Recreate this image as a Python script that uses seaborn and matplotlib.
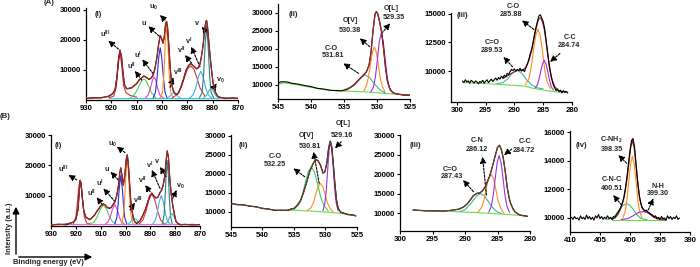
import numpy as np
import matplotlib
matplotlib.use('Agg')
import matplotlib.pyplot as plt
import seaborn as sns

# ---------------- DATA ----------------
# Panel A(i)  Ce 3d
a1_x = [930, 927, 924, 921, 919.5, 918.5, 917.8, 917.2, 916.6, 916.0, 915.4, 914.8, 914.0, 913, 912, 911, 910, 909, 908,
        907.2, 906.5, 905.8, 905, 904.2, 903.5, 902.8, 902.0, 901.3, 900.7, 900.2, 899.6, 899.1, 898.6, 898.2, 897.8,
        897.3, 896.8, 896.2, 895.6, 895, 894.2, 893.5, 892.5, 891.5, 890.5, 889.5, 888.7, 887.8, 887, 886.3, 885.6,
        885, 884.4, 883.8, 883.2, 882.7, 882.4, 882.0, 881.5, 881, 880.4, 879.8, 879, 878, 877, 875, 872, 870]
a1_fit = [600, 650, 800, 1200, 2000, 3600, 7500, 13000, 16600, 14500, 9000, 5000, 3800, 3800, 4100, 4700, 5500, 6600,
          7400, 7900, 7700, 7200, 6900, 7300, 8300, 10300, 14200, 18600, 21300, 20500, 18800, 21000, 25000, 26000,
          24000, 18000, 11000, 5500, 3200, 2200, 1800, 2400, 4300, 7000, 9800, 11500, 12000, 11500, 10800, 10400,
          10700, 12000, 14500, 18000, 23000, 26000, 26300, 24000, 19000, 14500, 9500, 5500, 2600, 1300, 800, 650, 600, 600]
a1_exp = [500, 750, 700, 1300, 2100, 3500, 7600, 13200, 16500, 14600, 9100, 5100, 3700, 3900, 4000, 4800, 5400, 6700,
          7300, 8000, 7600, 7300, 6800, 7400, 8200, 10400, 14100, 18700, 21400, 20400, 18900, 20900, 25100, 26100,
          23900, 18100, 11100, 5400, 3300, 2100, 1900, 2300, 4400, 6900, 9900, 11400, 12100, 11400, 10900, 10300,
          10800, 11900, 14600, 17900, 23100, 25900, 26400, 23900, 19100, 14400, 9600, 5400, 2700, 1200, 900, 500, 700, 500]
a1_base_x = [921, 877]
a1_base_y = [700, 700]
a1_u3_x = [921, 919, 918, 917.3, 916.6, 915.9, 915.2, 914.3, 912.5, 910]
a1_u3_y = [700, 1300, 4500, 11500, 15800, 11500, 5000, 2500, 1500, 900]
a1_u2_x = [912.5, 911, 910, 909, 908, 907.2, 906.3, 905.3, 904, 902.5]
a1_u2_y = [700, 1700, 3000, 4800, 6400, 7000, 6400, 4600, 2200, 800]
a1_u1_x = [906.5, 905.5, 904.6, 903.8, 903.1, 902.4, 901.7, 900.8, 899.5]
a1_u1_y = [700, 1600, 3800, 6500, 7600, 6500, 3800, 1600, 700]
a1_u_x = [903.5, 902.6, 902.0, 901.3, 900.7, 900.1, 899.4, 898.8, 898]
a1_u_y = [700, 2500, 7000, 14000, 17300, 14000, 7000, 2500, 700]
a1_u0_x = [900.8, 899.8, 899.2, 898.7, 898.2, 897.7, 897.2, 896.6, 895.6]
a1_u0_y = [700, 2500, 9000, 19500, 24800, 19500, 9000, 2500, 700]
a1_v3_x = [898, 896.8, 896, 895.3, 894.6, 893.8, 892.6]
a1_v3_y = [700, 1300, 2100, 2600, 2100, 1300, 700]
a1_v2_x = [896, 894, 892.5, 891.2, 890, 888.7, 887.4, 886.2, 885, 883]
a1_v2_y = [700, 1800, 4000, 7300, 10200, 11300, 10200, 7300, 4000, 1200]
a1_v1_x = [889, 887.6, 886.6, 885.6, 884.7, 883.8, 882.8, 881.8, 880.4]
a1_v1_y = [700, 1800, 4200, 7800, 9500, 7800, 4200, 1800, 700]
a1_v_x = [885.2, 884.2, 883.6, 883, 882.4, 881.8, 881.2, 880.6, 879.6]
a1_v_y = [700, 2500, 8000, 18000, 24500, 18000, 8000, 2500, 700]
a1_v0_x = [883.5, 882.3, 881.4, 880.6, 879.8, 879, 877.7]
a1_v0_y = [700, 1700, 3200, 3900, 3200, 1700, 700]

# Panel A(ii)  O 1s
a2_x = [545, 544.5, 544, 543.5, 543, 542, 541, 540, 539, 538, 537, 536, 535.5, 535, 534.5, 534, 533.5, 533, 532.5,
        532, 531.6, 531.2, 530.9, 530.6, 530.3, 530.1, 529.9, 529.6, 529.3, 529.0, 528.7, 528.4, 528.0, 527.5, 527,
        526, 525]
a2_fit = [10300, 10700, 10800, 10650, 10450, 10100, 9800, 9400, 9000, 8700, 8450, 8300, 8300, 8400, 8700, 9200, 9900,
          10800, 11800, 12700, 13600, 15400, 19000, 25000, 29500, 30200, 29800, 27500, 24500, 20000, 14500, 10800,
          8500, 7700, 7400, 7150, 7050]
a2_exp = [10400, 10800, 10750, 10700, 10400, 10150, 9750, 9450, 8950, 8750, 8400, 8350, 8250, 8450, 8650, 9250, 9850,
          10850, 11750, 12750, 13550, 15450, 19100, 25100, 29600, 30300, 29700, 27400, 24600, 19900, 14600, 10700,
          8600, 7650, 7450, 7100, 7050]
a2_base_x = [545, 544, 542, 540, 538, 536, 534, 532, 530, 528, 526, 525]
a2_base_y = [10100, 10500, 9900, 9250, 8600, 8250, 8150, 8000, 7750, 7450, 7150, 7050]
a2_co_x = [535, 534, 533.2, 532.5, 531.8, 531.1, 530.4, 529.6, 528.6]
a2_co_y = [8600, 9300, 10600, 12000, 12700, 11900, 10200, 8600, 7500]
a2_ov_x = [532.0, 531.6, 531.3, 531.0, 530.7, 530.4, 530.1, 529.8, 529.5, 529.2, 528.8]
a2_ov_y = [8300, 9700, 12000, 15600, 19000, 20500, 19000, 15500, 11800, 9500, 8000]
a2_ol_x = [530.95, 530.55, 530.25, 529.95, 529.65, 529.35, 529.05, 528.75, 528.45, 528.15, 527.75]
a2_ol_y = [7950, 9250, 12000, 16800, 22000, 24300, 22000, 16800, 12000, 9250, 7950]

# Panel A(iii)  C 1s (noisy)
a3_exp = [9150, 9000, 9250, 9050, 9150, 8950, 9200, 9100, 8950, 9150, 9050, 8900, 9100, 9000, 9200, 8950, 9100, 9250,
          9000, 9150, 9300, 9100, 9250, 9400, 9200, 9450, 9300, 9550, 9400, 9650, 9500, 9800, 9700, 9950, 10150, 10050,
          10200, 10000, 10150, 10050, 10250, 10000, 10150, 9950, 10300, 10600, 11000, 11500, 11900, 12500, 13200, 13800,
          14300, 14800, 14900, 14600, 14300, 13700, 12700, 11700, 10700, 9900, 9300, 8800, 8550, 8300, 8450, 8200, 8350,
          8100, 8300, 8150, 8250, 8100]
a3_fit_x = [292, 291, 290, 289.5, 289, 288.5, 288, 287.5, 287, 286.5, 286, 285.7, 285.4, 285.1, 284.8, 284.5, 284.2,
            283.9, 283.5, 283, 282.5, 282, 281]
a3_fit = [9350, 9650, 9950, 10050, 10050, 10100, 10350, 10900, 11800, 13100, 14200, 14600, 14600, 14250, 13600, 12600,
          11400, 10300, 9300, 8650, 8350, 8250, 8200]
a3_base_x = [299, 293, 288.4, 286.7, 284.4, 282.1, 280.7]
a3_base_y = [9000, 8860, 8700, 8500, 8300, 8170, 8150]
a3_ceo_x = [293, 292, 291.2, 290.4, 289.5, 288.6, 287.8, 287, 286, 285]
a3_ceo_y = [8900, 9000, 9300, 9800, 10100, 9750, 9200, 8800, 8550, 8450]
a3_co_x = [288.1, 287.5, 287.1, 286.7, 286.3, 285.9, 285.5, 285.1, 284.7, 284.3, 283.7]
a3_co_y = [8800, 9300, 10250, 11750, 13100, 13650, 13050, 11650, 10000, 9050, 8450]
a3_cc_x = [286.4, 286.0, 285.7, 285.4, 285.1, 284.8, 284.5, 284.2, 283.9, 283.6, 283.2]
a3_cc_y = [8550, 8800, 9350, 10050, 10650, 10950, 10600, 9950, 9200, 8650, 8350]

# Panel B(i)  Ce 3d
b1_x = [930, 927, 924, 921, 920, 919.2, 918.7, 918.3, 917.9, 917.4, 916.8, 916, 915, 914.2, 913.4, 912.5, 911.5, 910.5,
        909.6, 908.9, 908.2, 907.4, 906.6, 905.8, 905, 904.2, 903.5, 902.8, 902.3, 901.9, 901.4, 900.9, 900.3, 899.7,
        899.3, 898.9, 898.4, 897.9, 897.4, 896.8, 896.2, 895.5, 894.8, 894, 893, 892, 891, 890.2, 889.4, 888.6, 887.8,
        887, 886.2, 885.4, 884.8, 884.2, 883.7, 883.2, 882.7, 882.2, 881.6, 881, 880.4, 879.7, 879, 878, 876, 873, 870]
b1_fit = [500, 450, 650, 1200, 2200, 5000, 10000, 15000, 14200, 9500, 5000, 3000, 2300, 2200, 2800, 3600, 4800, 6100,
          7000, 7300, 6900, 6200, 5800, 6100, 7000, 8200, 10000, 13500, 17500, 19200, 16500, 13500, 16500, 22000, 23400,
          21000, 14500, 8500, 5000, 2500, 1300, 900, 1200, 2000, 3500, 5500, 8000, 10000, 10800, 10000, 9200, 9500,
          10800, 12000, 13500, 16500, 21000, 24800, 22500, 16000, 10500, 7000, 4200, 1600, 800, 500, 450, 500, 400]
b1_exp = [300, 600, 400, 1300, 2100, 5100, 10100, 14900, 14300, 9400, 5100, 2900, 2400, 2100, 2900, 3500, 4900, 6000,
          7100, 7200, 7000, 6100, 5900, 6000, 7100, 8100, 10100, 13400, 17600, 19100, 16600, 13400, 16600, 21900, 23500,
          20900, 14600, 8400, 5100, 2400, 1400, 800, 1300, 1900, 3600, 5400, 8100, 9900, 10900, 9900, 9300, 9400,
          10900, 11900, 13600, 16400, 21100, 24700, 22600, 15900, 10600, 6900, 4300, 1500, 900, 400, 550, 350, 500]
b1_base_x = [925, 872]
b1_base_y = [600, 600]
b1_u3_x = [921, 920, 919.4, 918.85, 918.3, 917.75, 917.2, 916.6, 915.6, 914]
b1_u3_y = [750, 3000, 7500, 12700, 15200, 12700, 7500, 3100, 900, 600]
b1_u2_x = [914, 912.5, 911.3, 910.1, 908.9, 907.7, 906.5, 905.3, 903.8]
b1_u2_y = [700, 1450, 3200, 5650, 6900, 5650, 3200, 1450, 700]
b1_u1_x = [908, 907, 906.2, 905.3, 904.3, 903.3, 902.4, 901.6, 900.5]
b1_u1_y = [700, 1350, 2800, 5400, 7100, 5400, 2800, 1350, 700]
b1_u_x = [904.3, 903.5, 903.0, 902.5, 901.9, 901.3, 900.8, 900.3, 899.5]
b1_u_y = [780, 2760, 6840, 12600, 16600, 12600, 6840, 2760, 780]
b1_u0_x = [901.6, 900.8, 900.3, 899.85, 899.3, 898.75, 898.3, 897.8, 897]
b1_u0_y = [800, 3500, 9400, 16900, 22100, 16900, 9400, 3500, 800]
b1_v3_x = [899, 898, 897.4, 896.5, 895.6, 895, 894]
b1_v3_y = [600, 1300, 2200, 2600, 2200, 1300, 600]
b1_v2_x = [894.5, 893, 891.8, 890.6, 889.4, 888.2, 887, 885.8, 884.3]
b1_v2_y = [650, 1950, 4700, 8600, 10600, 8600, 4700, 1950, 650]
b1_v1_x = [889, 888.1, 887.4, 886.5, 885.6, 884.7, 883.8, 883.1, 882.2]
b1_v1_y = [770, 1680, 3640, 7700, 10100, 7700, 3640, 1680, 770]
b1_v_x = [885.2, 884.5, 884.1, 883.7, 883.2, 882.7, 882.3, 881.9, 881.2]
b1_v_y = [790, 3400, 8600, 16100, 21600, 16100, 8600, 3400, 790]
b1_v0_x = [884, 883, 882.2, 881.3, 880.4, 879.6, 878.6]
b1_v0_y = [650, 1400, 3100, 4100, 3100, 1400, 650]

# Panel B(ii)  O 1s
b2_x = [545, 544, 543, 542, 541, 540, 539, 538, 537, 536, 535.5, 535, 534.5, 534, 533.5, 533, 532.5, 532, 531.6, 531.2,
        530.8, 530.4, 530.1, 529.8, 529.5, 529.25, 529.0, 528.75, 528.5, 528.25, 528.0, 527.6, 527.2, 526.5, 525.5, 525.2]
b2_fit = [12200, 12000, 11800, 11600, 11300, 11000, 10700, 10500, 10400, 10500, 10700, 11000, 11700, 12900, 15000,
          17800, 20600, 22700, 23700, 23600, 22300, 20300, 20500, 22800, 26800, 28700, 27000, 22500, 17200, 13200,
          11000, 10000, 9700, 9400, 9100, 9000]
b2_exp = [12300, 11900, 11900, 11500, 11400, 10900, 10800, 10400, 10500, 10400, 10800, 10900, 11800, 12800, 15100,
          17700, 20700, 22600, 23800, 23500, 22400, 20200, 20600, 22700, 26900, 28600, 27100, 22400, 17300, 13100,
          11100, 9900, 9800, 9300, 9200, 8950]
b2_base_x = [536, 534, 532, 530, 528, 526, 525.2]
b2_base_y = [10500, 10400, 10200, 10000, 9700, 9300, 9000]
b2_co_x = [534.95, 534.25, 533.75, 533.25, 532.75, 532.25, 531.75, 531.25, 530.75, 530.25, 529.55]
b2_co_y = [10700, 11950, 14000, 17400, 20500, 21900, 20500, 17300, 13900, 11700, 10300]
b2_ov_x = [532.8, 532.3, 531.9, 531.55, 531.2, 530.8, 530.4, 530.05, 529.7, 529.3, 528.8]
b2_ov_y = [10500, 11150, 12500, 14650, 16600, 17500, 16600, 14600, 12400, 11000, 9950]
b2_ol_x = [530.4, 530.1, 529.875, 529.65, 529.425, 529.2, 528.975, 528.75, 528.525, 528.3, 528.0]
b2_ol_y = [10400, 12350, 15800, 21200, 26250, 28500, 26250, 21200, 15750, 12300, 10300]

# Panel B(iii)  C 1s
b3_x = [298, 296, 294, 293, 292, 291, 290.3, 289.7, 289.2, 288.7, 288.2, 287.7, 287.3, 286.9, 286.5, 286.2, 285.8,
        285.4, 285.0, 284.7, 284.4, 284.1, 283.8, 283.5, 283.2, 283.0, 282.6, 282.3, 281.8, 281.5, 281, 280.4]
b3_fit = [10770, 10600, 10500, 10550, 10700, 11000, 11450, 12300, 13300, 14500, 15000, 15200, 15700, 16700, 18300,
          19500, 21800, 24400, 26800, 27400, 26200, 24000, 20500, 16500, 13800, 12600, 11000, 10300, 9700, 9500, 9300, 9200]
b3_exp = [10800, 10550, 10550, 10500, 10750, 10950, 11500, 12250, 13350, 14450, 15050, 15150, 15750, 16650, 18350,
          19450, 21850, 24350, 26850, 27350, 26250, 23950, 20550, 16450, 13850, 12550, 11050, 10250, 9750, 9450, 9350, 9150]
b3_base_x = [292.3, 290, 288, 286, 284, 282, 280.5]
b3_base_y = [10400, 10250, 10100, 9900, 9700, 9450, 9250]
b3_ceo_x = [290.8, 290, 289.4, 288.8, 288.2, 287.6, 287.0, 286.4, 285.8, 285.2, 284.4]
b3_ceo_y = [10400, 10850, 11850, 13100, 14400, 15000, 14350, 12950, 11450, 10500, 9850]
b3_cn_x = [288.0, 287.5, 287.1, 286.75, 286.4, 286.0, 285.6, 285.25, 284.9, 284.5, 284.0]
b3_cn_y = [10250, 11300, 13150, 16100, 18800, 20000, 18800, 16050, 13100, 11250, 9950]
b3_cc_x = [286.35, 285.95, 285.65, 285.35, 285.05, 284.75, 284.45, 284.15, 283.85, 283.55, 283.15]
b3_cc_y = [10180, 11780, 14550, 18900, 22900, 24750, 22900, 18900, 14550, 11750, 10150]

# Panel B(iv)  N 1s (noisy)
b4_exp = [10050, 9900, 10100, 9950, 10000, 9850, 10150, 9950, 10050, 9900, 10200, 9950, 10100, 9900, 10050, 9850,
          10150, 10000, 10250, 9950, 10100, 9900, 10050, 9950, 10150, 9950, 10050, 9900, 10100, 10050, 10250, 10400,
          10550, 10800, 11050, 11500, 12100, 12900, 13800, 14700, 15400, 15550, 15000, 13800, 12600, 11700, 11100,
          10750, 10600, 10500, 10550, 10400, 10350, 10250, 10200, 10050, 10150, 9950, 10050, 9900, 10100, 9950, 10000,
          9850, 10150, 9950, 10100, 9900, 10050, 9950, 10150, 9900, 10000]
b4_fit_x = [403, 402.5, 402, 401.5, 401, 400.5, 400.2, 399.9, 399.6, 399.3, 399.0, 398.7, 398.4, 398, 397.5, 397,
            396.5, 396, 395.5, 395, 394]
b4_fit = [9900, 10000, 10250, 10700, 11400, 12700, 13800, 14900, 15400, 14900, 13700, 12500, 11400, 10700, 10450,
          10350, 10200, 10050, 9950, 9900, 9870]
b4_base_x = [403, 394]
b4_base_y = [9870, 9870]
b4_cnc_x = [404, 403, 402.4, 401.8, 401.2, 400.6, 400.0, 399.4, 398.8, 398.2, 397.2]
b4_cnc_y = [9880, 9980, 10200, 10560, 10880, 11000, 10880, 10560, 10200, 9970, 9880]
b4_cnh2_x = [401.2, 400.8, 400.5, 400.2, 399.9, 399.6, 399.3, 399.0, 398.7, 398.4, 398.0]
b4_cnh2_y = [9990, 10470, 11300, 12570, 13770, 14300, 13770, 12570, 11300, 10470, 9990]
b4_nh_x = [401.5, 400.4, 399.5, 398.6, 397.8, 397.0, 396.1, 395.2, 394.1]
b4_nh_y = [9890, 9950, 10150, 10380, 10450, 10380, 10150, 9950, 9890]

# tick values
ce_xticks = [930, 920, 910, 900, 890, 880, 870]
ce_yticks = [10000, 20000, 30000]
o_xticks = [545, 540, 535, 530, 525]
o_yticks = [10000, 15000, 20000, 25000, 30000]
c_xticks = [300, 295, 290, 285, 280]
a3_yticks = [10000, 12500, 15000]
n_xticks = [410, 405, 400, 395, 390]
n_yticks = [10000, 12000, 14000, 16000]

# ---------------- STYLE ----------------
sns.set_theme(style='ticks')
plt.rcParams['font.family'] = ['Liberation Sans', 'DejaVu Sans']
plt.rcParams['font.weight'] = 'bold'
plt.rcParams['mathtext.fontset'] = 'custom'
plt.rcParams['mathtext.rm'] = 'Liberation Sans:bold'
plt.rcParams['mathtext.it'] = 'Liberation Sans:bold'
plt.rcParams['mathtext.bf'] = 'Liberation Sans:bold'

C_ENV = '#a0282d'
C_RED = '#cf3a3f'
C_GREEN = '#55cc55'
C_MAG = '#e040d0'
C_BLUE = '#2d2de0'
C_ORANGE = '#ff8c1a'
C_CYAN = '#33ccee'
C_LBLUE = '#4aa8e8'
C_TEAL = '#2a7f7f'
C_PURPLE = '#a030e0'
C_LGREEN = '#66dd44'
C_SEA = '#40b8a0'

TICK_FS = 5.6
NOTE_FS = 5.2

W, H = 700, 267
fig = plt.figure(figsize=(7.0, 2.67), dpi=100)


def add_ax(l, r, t, b):
    return fig.add_axes([l / W, 1 - b / H, (r - l) / W, (b - t) / H])


def line(ax, xs, ys, color, lw=0.8, z=2):
    sns.lineplot(x=list(xs), y=list(ys), ax=ax, color=color, linewidth=lw, sort=False,
                 estimator=None, legend=False, zorder=z)


def style(ax, xlim, ylim, xt, yt):
    ax.set_xlim(*xlim)
    ax.set_ylim(*ylim)
    ax.set_xticks(xt, [str(v) for v in xt])
    ax.set_yticks(yt, [str(v) for v in yt])
    sns.despine(ax=ax)
    for s in ['left', 'bottom']:
        ax.spines[s].set_linewidth(0.9)
        ax.spines[s].set_color('black')
    ax.tick_params(direction='out', length=2.5, width=0.8, labelsize=TICK_FS, pad=1.2, colors='black')
    ax.set_xlabel('')
    ax.set_ylabel('')
    ax.set_facecolor('none')


def note(ax, text, xy, fs=NOTE_FS):
    ax.text(xy[0], xy[1], text, ha='center', va='center', fontsize=fs, fontweight='bold', clip_on=False)


def arrow(ax, head, tail):
    ax.annotate('', xy=head, xytext=tail,
                arrowprops=dict(arrowstyle='-|>,head_length=0.3,head_width=0.15', linestyle=(0, (2.0, 1.2)),
                                lw=0.8, color='black', shrinkA=0, shrinkB=0), annotation_clip=False)


# ---------------- A(i) ----------------
ax = add_ax(86, 238, 8, 100)
line(ax, a1_base_x, a1_base_y, C_CYAN)
for xs, ys, c in [(a1_u3_x, a1_u3_y, C_RED), (a1_u2_x, a1_u2_y, C_GREEN), (a1_u1_x, a1_u1_y, C_MAG),
                  (a1_u_x, a1_u_y, C_BLUE), (a1_u0_x, a1_u0_y, C_ORANGE), (a1_v3_x, a1_v3_y, C_CYAN),
                  (a1_v2_x, a1_v2_y, C_RED), (a1_v1_x, a1_v1_y, C_LBLUE), (a1_v_x, a1_v_y, C_TEAL),
                  (a1_v0_x, a1_v0_y, C_SEA)]:
    line(ax, xs, ys, c)
line(ax, a1_x, a1_exp, 'black', 0.8, 3)
line(ax, a1_x, a1_fit, C_ENV, 0.9, 4)
style(ax, (930, 870), (0, 30500), ce_xticks, ce_yticks)
note(ax, '(i)', (925.1, 28200), 5.6)
for t, p, h, tl in [(r'u$^{III}$', (922.5, 21900), (921.2, 19650), (917.2, 16900)),
                    (r'u$^{II}$', (912.2, 11000), (910.7, 9700), (908.0, 6600)),
                    (r'u$^{I}$', (909.6, 14900), (907.8, 13500), (903.4, 8600)),
                    ('u', (907.4, 25200), (905.4, 24500), (901.2, 21200)),
                    (r'u$_0$', (903.4, 30700), (900.8, 28200), (898.8, 26500)),
                    (r'v$^{III}$', (893.8, 9050), (895.5, 7500), (896.8, 4200)),
                    (r'v$^{II}$', (892.2, 16600), (890.9, 14900), (888.3, 12200)),
                    (r'v$^{I}$', (889.6, 19300), (888.5, 17700), (885.0, 11000)),
                    ('v', (886.3, 25200), (884.3, 24300), (882.6, 22600)),
                    (r'v$_0$', (877.1, 6600), (878.4, 5500), (879.7, 3900))]:
    note(ax, t, p)
    arrow(ax, h, tl)

# ---------------- A(ii) ----------------
ax = add_ax(278, 410, 4, 99)
line(ax, a2_base_x, a2_base_y, C_LGREEN)
line(ax, a2_co_x, a2_co_y, C_SEA)
line(ax, a2_ov_x, a2_ov_y, C_ORANGE)
line(ax, a2_ol_x, a2_ol_y, C_PURPLE)
line(ax, a2_x, a2_exp, 'black', 0.8, 3)
line(ax, a2_x[13:], a2_fit[13:], C_ENV, 0.9, 4)
style(ax, (545, 525), (6000, 32400), o_xticks, o_yticks)
note(ax, '(ii)', (542.7, 29600), 5.6)
note(ax, 'O[V]', (534.1, 27950)); note(ax, '530.38', (534.1, 24970))
arrow(ax, (532.6, 22860), (531.1, 20530))
note(ax, 'O[L]', (527.8, 31200)); note(ax, '529.35', (527.5, 28700))
arrow(ax, (528.0, 27030), (529.3, 24250))
note(ax, 'C-O', (536.9, 20080)); note(ax, '531.81', (536.6, 17950))
arrow(ax, (535.1, 15920), (532.8, 13140))

# ---------------- A(iii) ----------------
ax = add_ax(451, 572, 13, 101.7)
a3_x = np.linspace(299.0, 280.75, len(a3_exp))
line(ax, a3_base_x, a3_base_y, C_LGREEN)
line(ax, a3_ceo_x, a3_ceo_y, C_SEA)
line(ax, a3_co_x, a3_co_y, C_ORANGE)
line(ax, a3_cc_x, a3_cc_y, C_PURPLE)
line(ax, a3_fit_x, a3_fit, C_ENV, 0.9, 3)
line(ax, a3_x, a3_exp, 'black', 0.8, 4)
style(ax, (301, 280), (7340, 15050), c_xticks, a3_yticks)
note(ax, '(iii)', (299.0, 14850), 5.6)
note(ax, 'C-O', (290.2, 15630)); note(ax, '285.88', (290.5, 14930))
arrow(ax, (288.7, 14420), (286.6, 13610))
note(ax, 'C=O', (293.9, 12480)); note(ax, '289.53', (293.9, 11820))
arrow(ax, (291.9, 11240), (290.3, 10370))
note(ax, 'C-C', (280.3, 12920)); note(ax, '284.74', (280.6, 12190))
arrow(ax, (283.8, 10800), (282.1, 11530))

# ---------------- B(i) ----------------
ax = add_ax(51, 200, 135, 226)
line(ax, b1_base_x, b1_base_y, '#e070e0')
for xs, ys, c in [(b1_u3_x, b1_u3_y, C_RED), (b1_u2_x, b1_u2_y, C_GREEN), (b1_u1_x, b1_u1_y, C_MAG),
                  (b1_u_x, b1_u_y, C_BLUE), (b1_u0_x, b1_u0_y, C_ORANGE), (b1_v3_x, b1_v3_y, C_CYAN),
                  (b1_v2_x, b1_v2_y, C_RED), (b1_v1_x, b1_v1_y, C_LBLUE), (b1_v_x, b1_v_y, C_TEAL),
                  (b1_v0_x, b1_v0_y, C_SEA)]:
    line(ax, xs, ys, c)
line(ax, b1_x, b1_exp, 'black', 0.8, 3)
line(ax, b1_x, b1_fit, C_ENV, 0.9, 4)
style(ax, (930, 870), (0, 30000), ce_xticks, ce_yticks)
note(ax, '(i)', (927.1, 26700), 5.6)
for t, p, h, tl in [(r'u$^{III}$', (925.0, 18700), (923.0, 16800), (919.6, 15200)),
                    (r'u$^{II}$', (913.6, 10800), (911.6, 9460), (909.2, 6900)),
                    (r'u$^{I}$', (910.3, 14100), (908.9, 12400), (904.2, 8000)),
                    ('u', (907.6, 18700), (906.0, 17900), (902.9, 15200)),
                    (r'u$_0$', (905.2, 27000), (903.5, 26150), (900.2, 24200)),
                    (r'v$^{III}$', (894.8, 8570), (896.2, 7680), (898.2, 5280)),
                    (r'v$^{II}$', (893.1, 15200), (892.1, 13500), (890.1, 11300)),
                    (r'v$^{I}$', (890.4, 20100), (889.4, 18500), (886.1, 12400)),
                    ('v', (887.4, 21200), (886.1, 19550), (883.7, 16250)),
                    (r'v$_0$', (878.0, 12960), (879.4, 11870), (881.0, 9130))]:
    note(ax, t, p)
    arrow(ax, h, tl)

# ---------------- B(ii) ----------------
ax = add_ax(231, 357, 135, 227)
line(ax, b2_base_x, b2_base_y, C_LGREEN)
line(ax, b2_co_x, b2_co_y, '#33cc66')
line(ax, b2_ov_x, b2_ov_y, C_ORANGE)
line(ax, b2_ol_x, b2_ol_y, C_PURPLE)
line(ax, b2_x, b2_exp, 'black', 0.8, 3)
line(ax, b2_x, b2_fit, '#6b4030', 0.9, 4)
style(ax, (545, 525), (6050, 30260), o_xticks, o_yticks)
note(ax, '(ii)', (543.0, 27620), 5.6)
note(ax, 'C-O', (538.0, 24720)); note(ax, '532.25', (538.0, 22620))
arrow(ax, (535.1, 21490), (533.3, 19280))
note(ax, 'O[V]', (533.0, 30250)); note(ax, '530.81', (532.5, 27350))
arrow(ax, (531.9, 25850), (531.0, 17540))
note(ax, 'O[L]', (527.2, 33320)); note(ax, '529.16', (527.4, 30250))
arrow(ax, (528.5, 26750), (527.5, 28480))

# ---------------- B(iii) ----------------
ax = add_ax(400, 530, 135, 231)
line(ax, b3_base_x, b3_base_y, C_LGREEN)
line(ax, b3_ceo_x, b3_ceo_y, C_SEA)
line(ax, b3_cn_x, b3_cn_y, C_ORANGE)
line(ax, b3_cc_x, b3_cc_y, C_PURPLE)
line(ax, b3_x, b3_exp, 'black', 0.8, 3)
line(ax, b3_x, b3_fit, '#6b4030', 0.9, 4)
style(ax, (300, 280), (5400, 30000), c_xticks, o_yticks)
note(ax, '(iii)', (297.7, 27420), 5.6)
note(ax, 'C=O', (292.3, 21200)); note(ax, '287.43', (292.0, 19300))
arrow(ax, (290.3, 18460), (288.7, 15460))
note(ax, 'C-N', (288.2, 28520)); note(ax, '286.12', (288.2, 26320))
arrow(ax, (287.3, 24420), (286.7, 14620))
note(ax, 'C-C', (280.8, 28260)); note(ax, '284.72', (281.0, 26140))
arrow(ax, (284.0, 24860), (282.8, 26400))

# ---------------- B(iv) ----------------
ax = add_ax(570, 690, 131, 232)
b4_x = np.linspace(409.75, 391.75, len(b4_exp))
line(ax, b4_base_x, b4_base_y, C_LGREEN)
line(ax, b4_cnc_x, b4_cnc_y, '#33cc66')
line(ax, b4_cnh2_x, b4_cnh2_y, C_ORANGE)
line(ax, b4_nh_x, b4_nh_y, C_PURPLE)
line(ax, b4_fit_x, b4_fit, C_ENV, 0.9, 3)
line(ax, b4_x, b4_exp, 'black', 0.8, 4)
style(ax, (410, 390), (9020, 16070), n_xticks, n_yticks)
note(ax, '(iv)', (408.05, 15090), 5.6)
note(ax, r'C-NH$_2$', (403.05, 15440)); note(ax, '398.35', (403.05, 14790))
arrow(ax, (401.95, 14400), (400.55, 13820))
note(ax, 'C-N-C', (403.05, 12700)); note(ax, '400.51', (403.05, 12070))
arrow(ax, (402.8, 11600), (401.4, 10900))
note(ax, 'N-H', (395.3, 12230)); note(ax, '399.30', (395.3, 11720))
arrow(ax, (396.1, 11370), (396.95, 10560))

# ---------------- figure labels ----------------
fig.text(49 / W, 1 - 3 / H, '(A)', fontsize=5.6, fontweight='bold', ha='center', va='center')
fig.text(5 / W, 1 - 117 / H, '(B)', fontsize=5.6, fontweight='bold', ha='center', va='center')
fig.text(10 / W, 1 - 228 / H, 'Intensity (a.u.)', rotation=90, fontsize=5.4, fontweight='bold',
         ha='center', va='center')
fig.text(48 / W, 1 - 262 / H, 'Binding energy (eV)', fontsize=5.4, fontweight='bold', ha='center', va='center')
fig.add_artist(matplotlib.patches.FancyArrowPatch((16 / W, 1 - 257 / H), (16 / W, 1 - 204 / H),
               transform=fig.transFigure, arrowstyle='-|>,head_length=4,head_width=2', lw=1.0, color='black'))
fig.add_artist(matplotlib.patches.FancyArrowPatch((16 / W, 1 - 257 / H), (95 / W, 1 - 257 / H),
               transform=fig.transFigure, arrowstyle='-|>,head_length=4,head_width=2', lw=1.0, color='black'))

fig.savefig('out.png', dpi=100)
